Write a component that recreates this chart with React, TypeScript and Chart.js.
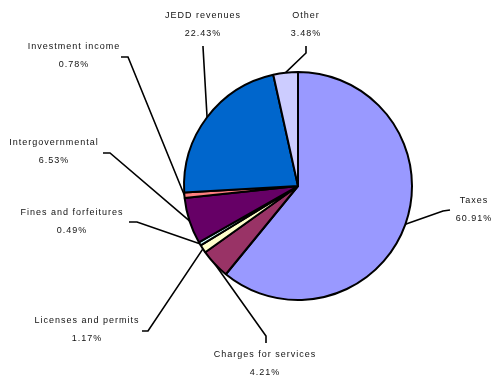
import React, { useEffect, useRef } from "react";
import { Chart, registerables } from "chart.js";

Chart.register(...registerables);

const categories = [
  "Taxes",
  "Charges for services",
  "Licenses and permits",
  "Fines and forfeitures",
  "Intergovernmental",
  "Investment income",
  "JEDD revenues",
  "Other",
];
const shares = [60.91, 4.21, 1.17, 0.49, 6.53, 0.78, 22.43, 3.48];
const percentLabels = ["60.91%", "4.21%", "1.17%", "0.49%", "6.53%", "0.78%", "22.43%", "3.48%"];
const sliceColors = ["#9999FF", "#993366", "#FFFFCC", "#CCFFFF", "#660066", "#FF8080", "#0066CC", "#CCCCFF"];

// label layout: text centre (x, y of first line), leader start and elbow
const labelLayout = [
  { tx: 474, ty: 201, start: [450, 210], elbow: [443, 211] },
  { tx: 265, ty: 355, start: [266, 343], elbow: [266, 336] },
  { tx: 87, ty: 321, start: [142, 331], elbow: [148, 331] },
  { tx: 72, ty: 213, start: [129, 222], elbow: [137, 222] },
  { tx: 54, ty: 143, start: [103, 153], elbow: [110, 153] },
  { tx: 74, ty: 47, start: [121, 57], elbow: [128, 57] },
  { tx: 203, ty: 16, start: [203, 46], elbow: [203, 47] },
  { tx: 306, ty: 16, start: [306, 46], elbow: [306, 53] },
];

const labelPlugin = {
  id: "leaderLabels",
  afterDatasetsDraw(chart: any) {
    const ctx = chart.ctx as CanvasRenderingContext2D;
    const meta = chart.getDatasetMeta(0);
    ctx.save();
    meta.data.forEach((arc: any, i: number) => {
      const p = arc.getProps(["x", "y", "startAngle", "endAngle", "outerRadius"], true);
      const mid = (p.startAngle + p.endAngle) / 2;
      const px = p.x + Math.cos(mid) * p.outerRadius;
      const py = p.y + Math.sin(mid) * p.outerRadius;
      const L = labelLayout[i];
      ctx.beginPath();
      ctx.strokeStyle = "#000";
      ctx.lineWidth = 1.6;
      ctx.moveTo(L.start[0], L.start[1]);
      ctx.lineTo(L.elbow[0], L.elbow[1]);
      ctx.lineTo(px, py);
      ctx.stroke();

      ctx.fillStyle = "#111";
      ctx.font = "9px 'Liberation Sans', Arial, sans-serif";
      (ctx as any).letterSpacing = "1px";
      ctx.textAlign = "center";
      ctx.textBaseline = "middle";
      ctx.fillText(categories[i], L.tx, L.ty);
      ctx.fillText(percentLabels[i], L.tx, L.ty + 18);
    });
    ctx.restore();
  },
};

export default function App() {
  const ref = useRef<HTMLCanvasElement | null>(null);
  useEffect(() => {
    if (!ref.current) return;
    const chart = new Chart(ref.current, {
      type: "pie",
      data: {
        labels: categories,
        datasets: [
          {
            data: shares,
            backgroundColor: sliceColors,
            borderColor: "#000",
            borderWidth: 2,
          },
        ],
      },
      options: {
        animation: false,
        responsive: false,
        layout: { padding: { left: 183, right: 81, top: 71, bottom: 80 } },
        plugins: {
          legend: { display: false },
          tooltip: { enabled: false },
        },
      },
      plugins: [labelPlugin],
    });
    return () => chart.destroy();
  }, []);
  return (
    <div style={{ position: "fixed", left: 0, top: 0, width: 494, height: 381, background: "#fff" }}>
      <canvas ref={ref} width={494} height={381} />
    </div>
  );
}
